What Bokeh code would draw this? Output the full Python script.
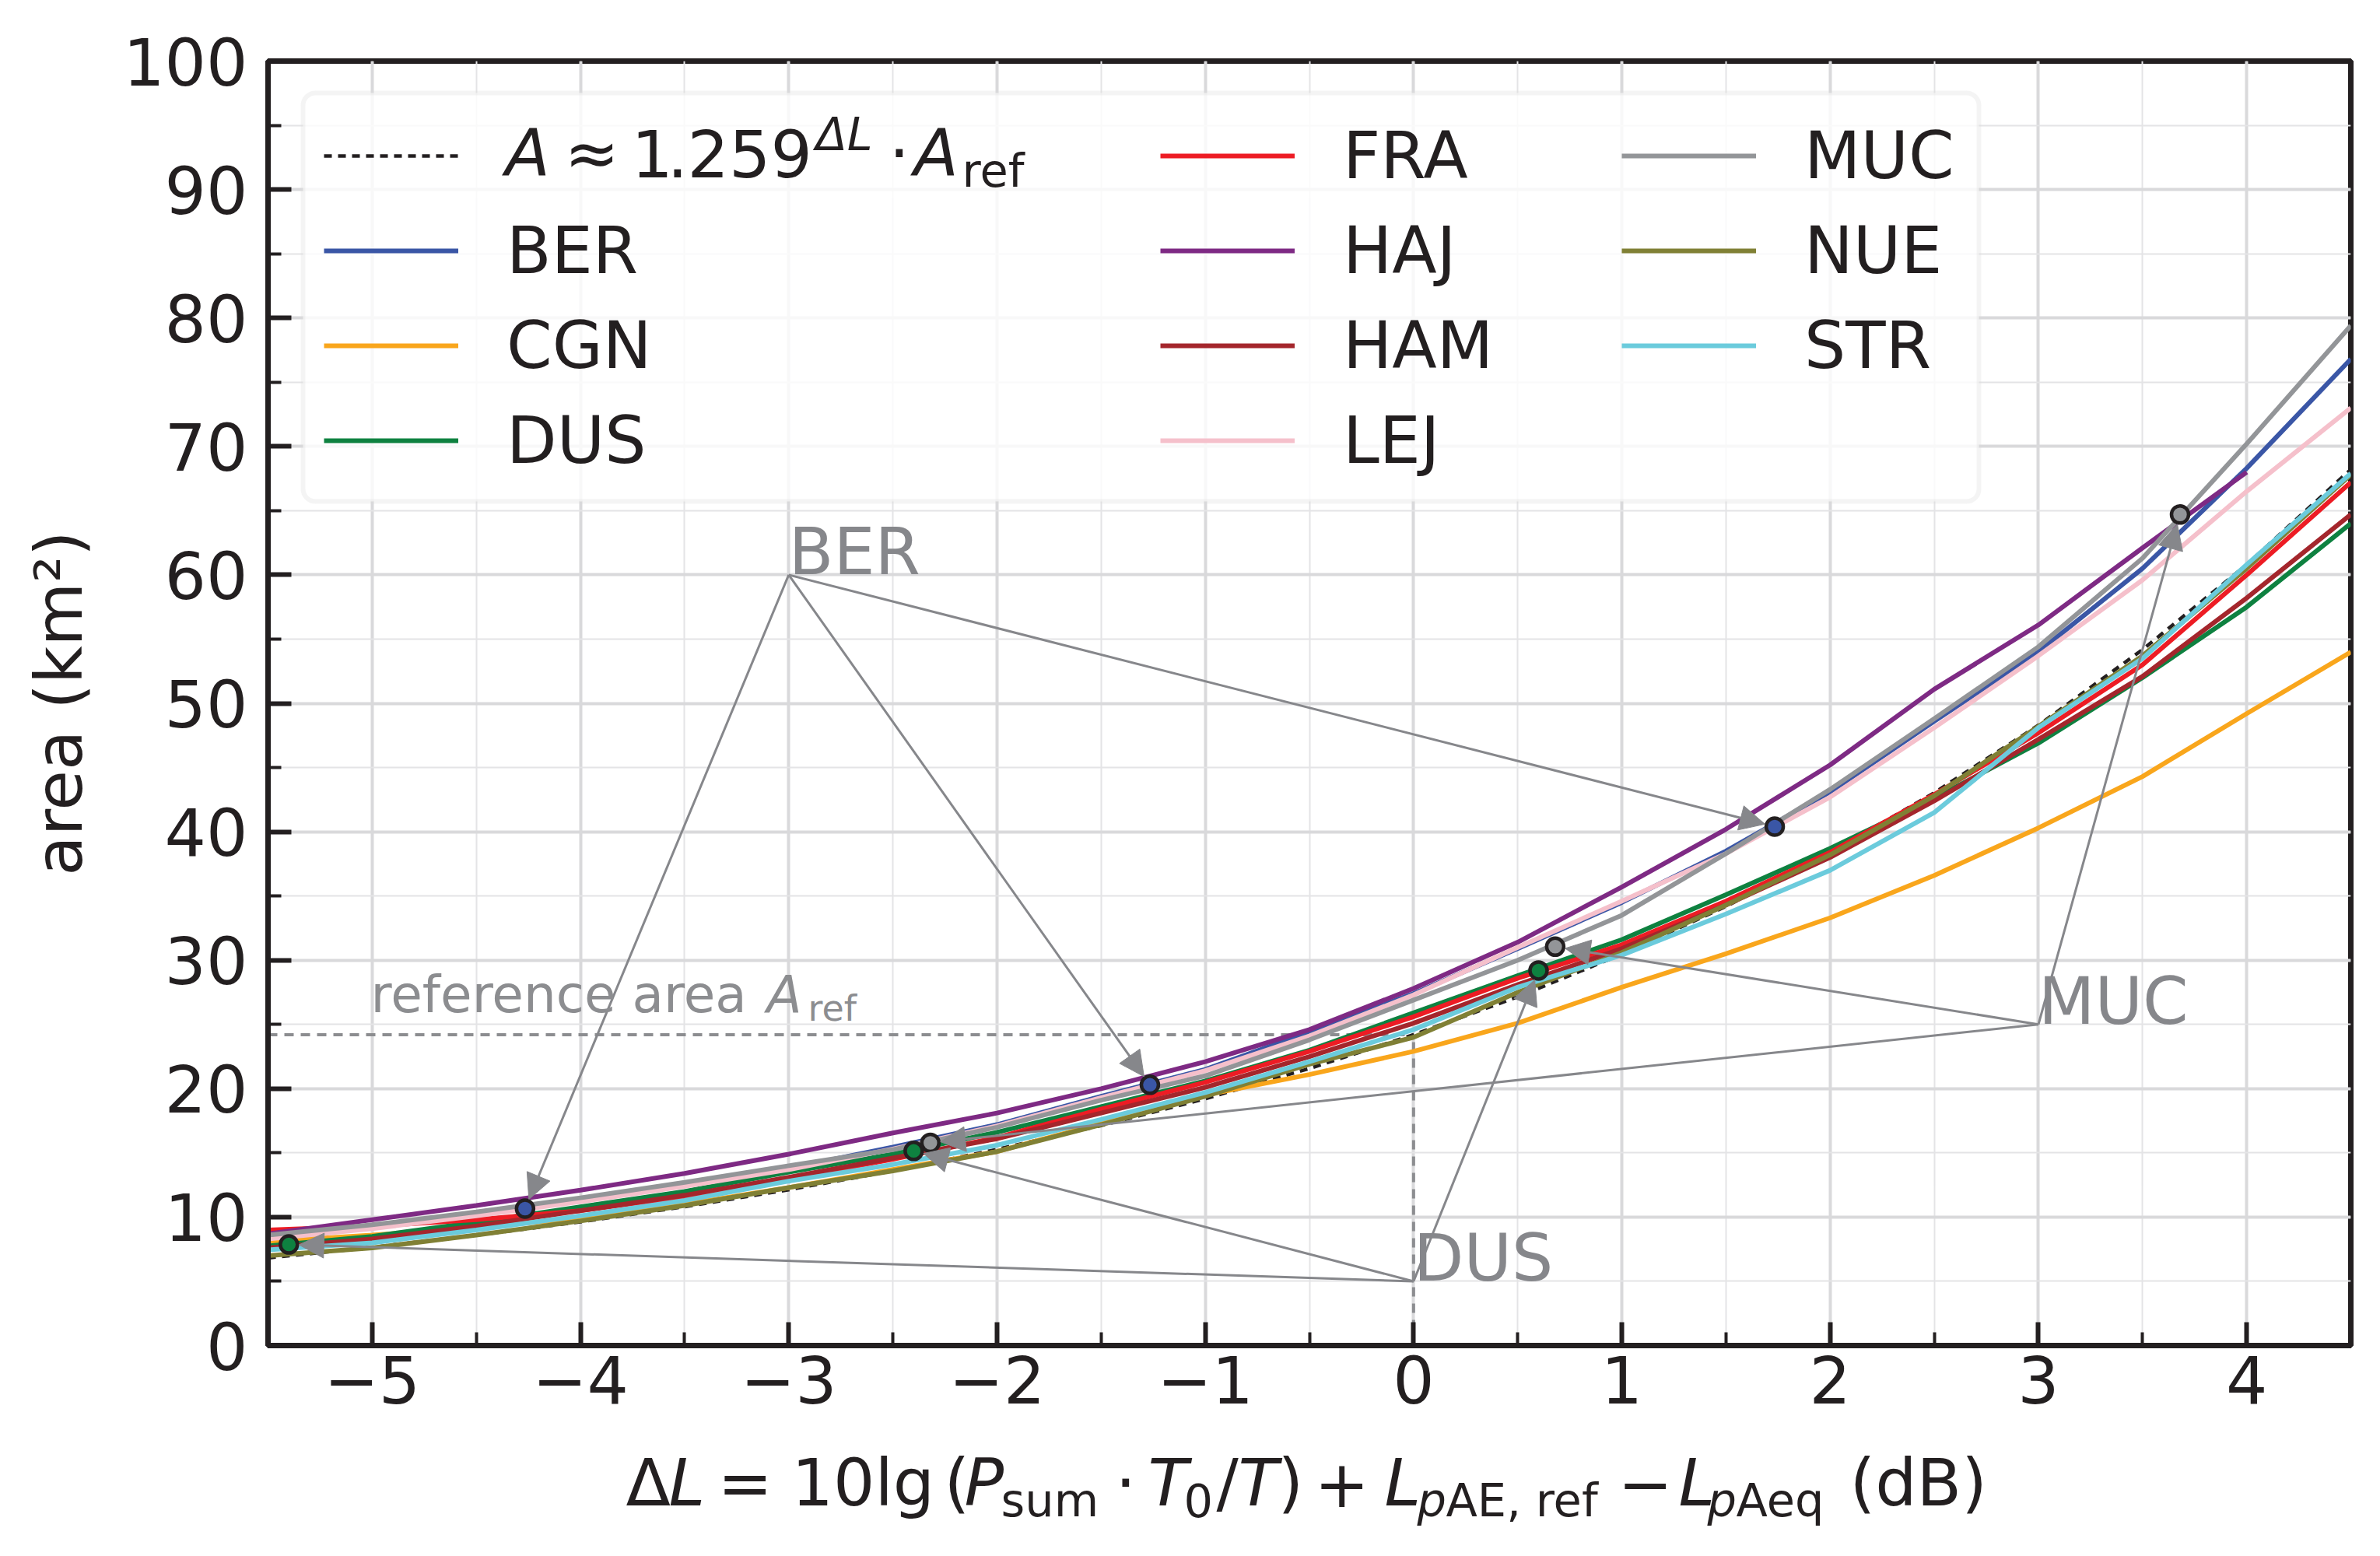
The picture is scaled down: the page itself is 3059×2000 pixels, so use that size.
import math
import numpy as np
from bokeh.plotting import figure
from bokeh.layouts import column
from bokeh.models import (Range1d, SingleIntervalTicker, Legend, LegendItem, Label,
                          Arrow, NormalHead, BoxAnnotation, CustomJSTickFormatter,
                          ColumnDataSource)
from bokeh.embed import file_html
from bokeh.resources import INLINE

# ---------------- data ----------------
delta_l = [-5.5, -5.0, -4.5, -4.0, -3.5, -3.0, -2.5, -2.0, -1.5, -1.0, -0.5,
           0.0, 0.5, 1.0, 1.5, 2.0, 2.5, 3.0, 3.5, 4.0, 4.5]

fit_area = [6.82, 7.65, 8.59, 9.63, 10.81, 12.13, 13.61, 15.27, 17.13, 19.22, 21.57,
            24.20, 27.15, 30.47, 34.19, 38.36, 43.04, 48.29, 54.18, 60.79, 68.21]

ber = [8.4, 9.2, 10.2, 11.3, 12.5, 13.8, 15.45, 17.2, 19.4, 21.5, 24.4,
       27.4, 30.9, 34.5, 38.5, 43.1, 48.6, 54.0, 60.5, 68.3, 76.8]
cgn = [8.1, 8.6, 9.2, 9.9, 11.0, 12.3, 13.7, 15.1, 17.3, 19.5, 21.1,
       22.9, 25.1, 27.9, 30.5, 33.3, 36.6, 40.3, 44.3, 49.2, 54.0]
dus = [7.75, 8.5, 9.6, 10.8, 12.0, 13.5, 14.9, 16.6, 18.6, 20.6, 23.0,
       25.9, 28.8, 31.6, 35.1, 38.7, 42.6, 46.9, 52.0, 57.5, 64.0]
fra = [9.0, 9.3, 9.8, 10.5, 11.6, 13.0, 14.5, 16.2, 18.4, 20.5, 22.9,
       25.6, 28.6, 31.2, 34.6, 38.4, 42.9, 47.7, 53.0, 60.0, 67.2]
haj = [8.7, 9.8, 10.9, 12.1, 13.4, 14.9, 16.55, 18.1, 20.0, 22.1, 24.6,
       27.8, 31.4, 35.7, 40.2, 45.2, 51.1, 56.1, 62.1, 68.0, float("nan")]
ham = [7.6, 8.3, 9.3, 10.5, 11.7, 13.1, 14.6, 16.1, 18.1, 20.1, 22.5,
       25.1, 28.1, 30.9, 34.3, 38.0, 42.4, 47.2, 52.1, 58.2, 64.7]
lej = [8.3, 9.1, 10.1, 11.2, 12.4, 13.7, 15.3, 17.1, 19.3, 21.4, 24.1,
       27.3, 31.0, 34.6, 38.3, 42.7, 48.1, 53.7, 59.6, 66.5, 73.0]
muc = [8.6, 9.4, 10.4, 11.5, 12.7, 14.0, 15.25, 17.0, 19.1, 21.0, 23.8,
       26.9, 30.0, 33.5, 38.3, 43.3, 48.8, 54.4, 61.3, 70.2, 79.4]
nue = [7.0, 7.6, 8.6, 9.7, 10.9, 12.3, 13.6, 15.1, 17.2, 19.4, 21.9,
       24.0, 27.5, 30.6, 34.3, 38.2, 42.8, 48.2, 53.7, 60.5, 67.8]
stra = [7.45, 8.0, 9.0, 10.1, 11.3, 12.8, 14.1, 15.6, 17.6, 19.7, 22.1,
        24.6, 27.9, 30.4, 33.6, 37.0, 41.5, 48.1, 53.5, 60.8, 67.9]

stations = ["BER", "CGN", "DUS", "FRA", "HAJ", "HAM", "LEJ", "MUC", "NUE", "STR"]
station_area = [ber, cgn, dus, fra, haj, ham, lej, muc, nue, stra]
station_color = ["#3a56a6", "#f9a61c", "#0e8140", "#ed1c24", "#7e2a84",
                 "#a4262c", "#f5c0cb", "#939598", "#808035", "#6bcbdc"]

a_ref = 24.2

# highlighted points (3 dB apart) and annotation anchors
ann_names = ["BER", "MUC", "DUS"]
ann_text_x = [-3.0, 3.0, 0.0]
ann_text_y = [60.0, 25.0, 5.0]
ann_pt_x = [[-4.266, -1.266, 1.734], [-2.32, 0.68, 3.68], [-5.40, -2.40, 0.60]]
ann_pt_y = [[10.66, 20.3, 40.4], [15.78, 31.05, 64.7], [7.87, 15.15, 29.2]]

x_ticks_text = "return tick < 0 ? '\\u2212' + Math.abs(tick) : String(tick);"

# ---------------- styling / layout ----------------
INK = "#231f20"
AGRAY = "#86878b"
RGRAY = "#8c8d90"
FONT = "DejaVu Sans"
MID_K = 0.36          # caps-centre offset used with text_baseline="middle"

OFF = 1               # page offset of the figure
W = 3043
H1 = 1850
H2 = 1984 - H1
FX0, FY0 = 345, 79    # frame top-left in page pixels
FW, FH = 2677, 1651
ML = FX0 - OFF
MT = FY0 - OFF
MR = W - ML - FW
MB = H1 - MT - FH
XMIN, XMAX, YMIN, YMAX = -5.5, 4.5, 0.0, 100.0
PXX = FW / (XMAX - XMIN)
PXY = FH / (YMAX - YMIN)
FBOT = FY0 + FH       # frame bottom in page pixels

p = figure(width=W, height=H1, x_range=Range1d(XMIN, XMAX), y_range=Range1d(YMIN, YMAX),
           output_backend="svg", toolbar_location=None,
           min_border_left=ML, min_border_right=MR, min_border_top=MT, min_border_bottom=MB,
           background_fill_color="white", border_fill_color="white")

p.outline_line_color = INK
p.outline_line_width = 7
p.outline_line_alpha = 1.0

p.xaxis.ticker = SingleIntervalTicker(interval=1, num_minor_ticks=2)
p.yaxis.ticker = SingleIntervalTicker(interval=10, num_minor_ticks=2)
p.xaxis.formatter = CustomJSTickFormatter(code=x_ticks_text)

for ax in (p.xaxis[0], p.yaxis[0]):
    ax.axis_line_color = INK
    ax.axis_line_width = 7
    ax.major_tick_line_color = INK
    ax.minor_tick_line_color = INK
    ax.major_tick_in = 30
    ax.major_tick_out = 0
    ax.minor_tick_in = 17
    ax.minor_tick_out = 0
    ax.major_tick_line_width = 6
    ax.minor_tick_line_width = 4
    ax.major_label_text_font = FONT
    ax.major_label_text_font_size = "84px"
    ax.major_label_text_color = INK

p.xaxis.major_label_standoff = 12
p.yaxis.major_label_standoff = 26
p.yaxis.axis_label = "area (km²)"
p.yaxis.axis_label_text_font = FONT
p.yaxis.axis_label_text_font_size = "84px"
p.yaxis.axis_label_text_font_style = "normal"
p.yaxis.axis_label_text_color = INK
p.yaxis.axis_label_standoff = 30

p.grid.grid_line_color = "#d9d9db"
p.grid.grid_line_width = 4
p.grid.minor_grid_line_color = "#e4e4e6"
p.grid.minor_grid_line_width = 2

# ---------------- reference area guides ----------------
p.segment(x0=XMIN, y0=a_ref, x1=0.0, y1=a_ref, line_color=RGRAY, line_width=4, line_dash="12 9")
p.segment(x0=0.0, y0=0.0, x1=0.0, y1=a_ref, line_color=RGRAY, line_width=4, line_dash="12 9")

# ---------------- curves ----------------
x_arr = np.array(delta_l, dtype=float)
r_fit = p.line(x_arr, np.array(fit_area), line_color=INK, line_width=4.5, line_dash="10 8")
rend = {}
for name, area, col in zip(stations, station_area, station_color):
    rend[name] = p.line(x_arr, np.array(area, dtype=float), line_color=col, line_width=6)

# ---------------- annotation arrows and markers ----------------
SHRINK = 13.0
xs, ys, xe, ye = [], [], [], []
for tx, ty, pxl, pyl in zip(ann_text_x, ann_text_y, ann_pt_x, ann_pt_y):
    for px_, py_ in zip(pxl, pyl):
        ddx = (px_ - tx) * PXX
        ddy = (py_ - ty) * PXY
        L = math.hypot(ddx, ddy)
        xs.append(tx)
        ys.append(ty)
        xe.append(px_ - ddx / L * SHRINK / PXX)
        ye.append(py_ - ddy / L * SHRINK / PXY)
arrow_src = ColumnDataSource(dict(xs=xs, ys=ys, xe=xe, ye=ye))
p.add_layout(Arrow(end=NormalHead(size=32, fill_color=AGRAY, line_color=AGRAY, line_width=1),
                   x_start="xs", y_start="ys", x_end="xe", y_end="ye", source=arrow_src,
                   line_color=AGRAY, line_width=3))

for name, pxl, pyl in zip(ann_names, ann_pt_x, ann_pt_y):
    col = station_color[stations.index(name)]
    p.scatter(pxl, pyl, size=22, fill_color=col, line_color=INK, line_width=4.5)

for name, tx, ty in zip(ann_names, ann_text_x, ann_text_y):
    p.add_layout(Label(x=tx, y=ty + MID_K * 84 / PXY, text=name, text_font=FONT,
                       text_font_size="84px", text_color=AGRAY,
                       text_baseline="middle", text_align="left"))


def txt(text, X, Yb, size, style="normal", color=INK):
    """Text placed at page pixel X (glyph origin) with its baseline at page pixel Yb."""
    px = X - FX0
    py = FBOT - Yb + MID_K * size
    p.add_layout(Label(x=XMIN + px / PXX, y=YMIN + py / PXY, text=text, text_font=FONT,
                       text_font_size=f"{size}px", text_font_style=style,
                       text_color=color, text_baseline="middle", text_align="left"))


# reference area label
txt("reference area", 477, 1303, 66, color=RGRAY)
txt("A", 986, 1303, 66, "italic", RGRAY)
txt("ref", 1039, 1313, 46, color=RGRAY)

# ---------------- legend ----------------
p.add_layout(BoxAnnotation(left=XMIN + 45 / PXX, right=XMIN + 2199 / PXX,
                           top=1610 / PXY, bottom=1085 / PXY,
                           fill_color="white", fill_alpha=0.8, line_color="#d9d9db",
                           line_width=6, border_radius=16))

leg_cols = [
    [(" ", r_fit), ("BER", rend["BER"]), ("CGN", rend["CGN"]), ("DUS", rend["DUS"])],
    [("FRA", rend["FRA"]), ("HAJ", rend["HAJ"]), ("HAM", rend["HAM"]), ("LEJ", rend["LEJ"])],
    [("MUC", rend["MUC"]), ("NUE", rend["NUE"]), ("STR", rend["STR"])],
]
leg_locs = [(72, 1113), (1147, 1113), (1740, 1235)]
for items, loc in zip(leg_cols, leg_locs):
    lg = Legend(items=[LegendItem(label=t, renderers=[r]) for t, r in items],
                location=loc, orientation="vertical",
                label_text_font=FONT, label_text_font_size="84px", label_text_color=INK,
                glyph_width=173, glyph_height=100, label_height=100, spacing=22,
                padding=0, margin=0, label_standoff=62,
                border_line_alpha=0, background_fill_alpha=0)
    p.add_layout(lg)

# formula label of the fit line
txt("A", 650, 228, 84, "italic")
txt("≈", 726, 228, 84)
txt("1", 812, 228, 84)
txt(".", 858, 228, 84)
txt("259", 884, 228, 84)
txt("ΔL", 1049, 194, 59, "italic")
txt("·", 1143, 228, 84)
txt("A", 1175, 228, 84, "italic")
txt("ref", 1237, 241, 59)

# ---------------- x axis label (composed, in a strip below the plot) ----------------
# the strip shares the x scale and the left/right borders of the main plot
p2 = figure(width=W, height=H2, x_range=Range1d(XMIN, XMAX), y_range=Range1d(0, H2),
            output_backend="svg", toolbar_location=None, title_location=None,
            min_border_left=ML, min_border_right=MR, min_border_top=0, min_border_bottom=0,
            x_axis_type=None, y_axis_type=None,
            background_fill_color="white", border_fill_color="white")
p2.outline_line_color = None
P2TOP = OFF + H1


def xl(text, X, Yb, size, style="normal"):
    p2.add_layout(Label(x=XMIN + (X - FX0) / PXX, y=H2 - (Yb - P2TOP) + MID_K * size,
                        text=text, text_font=FONT, text_font_size=f"{size}px",
                        text_font_style=style, text_color=INK,
                        text_baseline="middle", text_align="left"))


BL = 1937
SB = 1950
xl("Δ", 805, BL, 84)
xl("L", 860, BL, 84, "italic")
xl("=", 923, BL, 84)
xl("10lg", 1018, BL, 84)
xl("(", 1214, BL, 84)
xl("P", 1240, BL, 84, "italic")
xl("sum", 1287, SB, 59)
xl("·", 1434, BL, 84)
xl("T", 1476, BL, 84, "italic")
xl("0", 1522, SB, 59)
xl("/", 1564, BL, 84)
xl("T", 1592, BL, 84, "italic")
xl(")", 1643, BL, 84)
xl("+", 1690, BL, 84)
xl("L", 1780, BL, 84, "italic")
xl("p", 1822, SB, 59, "italic")
xl("AE, ref", 1859, SB, 59)
xl("−", 2080, BL, 84)
xl("L", 2158, BL, 84, "italic")
xl("p", 2195, SB, 59, "italic")
xl("Aeq", 2232, SB, 59)
xl("(dB)", 2378, BL, 84)

layout = column(p, p2)
open("out.html", "w").write(file_html(layout, INLINE))
